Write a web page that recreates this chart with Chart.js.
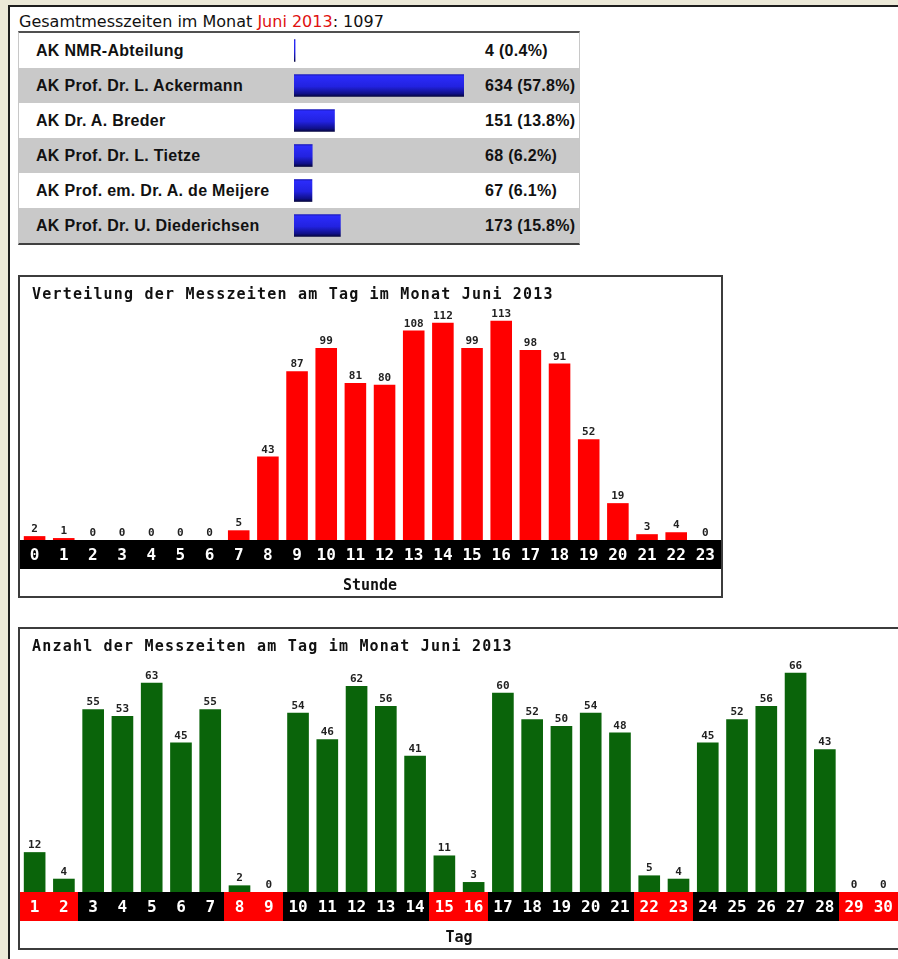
<!DOCTYPE html>
<html>
<head>
<meta charset="utf-8">
<script src="https://cdn.jsdelivr.net/npm/chart.js@4"></script>
<style>
  html, body { margin: 0; padding: 0; overflow: hidden; }
  body { background: #ece9d8; width: 898px; height: 959px; position: relative; }
  #panel { position: absolute; left: 8px; top: 5px; width: 960px; height: 1000px; background: #fff;
    border-top: 2px solid #1e1e1e; border-left: 2px solid #1e1e1e; }
  #summaryTitle { position: absolute; left: 19px; top: 12px; font: 16px 'DejaVu Sans', sans-serif; color: #111; white-space: nowrap; }
  #summaryTitle span { color: #e01010; }
  #summary { position: absolute; left: 18px; top: 31px; width: 560px; background: #fff;
    border-top: 2px solid #505050; border-bottom: 2px solid #404040;
    border-left: 1px solid #c8c8c8; border-right: 1px solid #c8c8c8;
    font: bold 16px 'Liberation Sans', Arial, sans-serif; letter-spacing: 0.3px; color: #111; }
  #summary .row { position: relative; height: 35px; line-height: 35px; white-space: nowrap; }
  #summary .row:nth-child(even) { background: #c9c9c9; }
  #summary .name { position: absolute; left: 17px; }
  #summary .val { position: absolute; left: 466px; }
  #groupBars { position: absolute; left: 294px; top: 33px; }
  .box { position: absolute; left: 18px; border: 2px solid #3c3c3c; background: #fff; }
  .box canvas { display: block; }
</style>
</head>
<body>
<div id="panel"></div>
<div id="summaryTitle"></div>
<div id="summary"></div>
<canvas id="groupBars" width="170" height="210"></canvas>
<div class="box" style="top:275px;width:701px;height:319px"><canvas id="hourChart" width="701" height="319"></canvas></div>
<div class="box" style="top:627px;width:879px;height:319px"><canvas id="dayChart" width="879" height="319"></canvas></div>
<script>
const monthName = 'Juni 2013';
const groupNames = ['AK NMR-Abteilung', 'AK Prof. Dr. L. Ackermann', 'AK Dr. A. Breder',
  'AK Prof. Dr. L. Tietze', 'AK Prof. em. Dr. A. de Meijere', 'AK Prof. Dr. U. Diederichsen'];
const groupValues = [4, 634, 151, 68, 67, 173];

const hourLabels = ['0', '1', '2', '3', '4', '5', '6', '7', '8', '9', '10', '11',
  '12', '13', '14', '15', '16', '17', '18', '19', '20', '21', '22', '23'];
const hourValues = [2, 1, 0, 0, 0, 0, 0, 5, 43, 87, 99, 81, 80, 108, 112, 99, 113, 98, 91, 52, 19, 3, 4, 0];

const dayLabels = ['1', '2', '3', '4', '5', '6', '7', '8', '9', '10', '11', '12', '13', '14', '15',
  '16', '17', '18', '19', '20', '21', '22', '23', '24', '25', '26', '27', '28', '29', '30'];
const dayValues = [12, 4, 55, 53, 63, 45, 55, 2, 0, 54, 46, 62, 56, 41, 11, 3, 60, 52, 50, 54, 48,
  5, 4, 45, 52, 56, 66, 43, 0, 0];
const weekendDays = [1, 2, 8, 9, 15, 16, 22, 23, 29, 30];

const total = groupValues.reduce((a, b) => a + b, 0);
const mono = "'DejaVu Sans Mono', monospace";

// summary table
document.getElementById('summaryTitle').innerHTML =
  `Gesamtmesszeiten im Monat <span>${monthName}</span>: ${total}`;
document.getElementById('summary').innerHTML = groupNames.map((name, i) =>
  `<div class="row"><span class="name">${name}</span>` +
  `<span class="val">${groupValues[i]} (${(groupValues[i] / total * 100).toFixed(1)}%)</span></div>`
).join('');

new Chart(document.getElementById('groupBars'), {
  type: 'bar',
  data: {
    labels: groupNames,
    datasets: [{
      data: groupValues,
      barThickness: 22,
      borderWidth: 0,
      backgroundColor: (c) => {
        const chart = c.chart;
        if (!chart.chartArea || !chart.scales.y) return '#2323e0';
        const h = chart.height;
        const g = chart.ctx.createLinearGradient(0, 0, 0, h);
        groupNames.forEach((n, i) => {
          const yc = chart.scales.y.getPixelForValue(i);
          const t = yc - 11, b = yc + 11;
          g.addColorStop(t / h, '#1c1cc0');
          g.addColorStop((t + 2) / h, '#2b2bfa');
          g.addColorStop((yc + 1) / h, '#2222e0');
          g.addColorStop((b - 3) / h, '#10108a');
          g.addColorStop(b / h, '#050540');
        });
        return g;
      }
    }]
  },
  options: {
    indexAxis: 'y',
    responsive: false,
    animation: false,
    layout: { padding: 0 },
    plugins: { legend: { display: false }, tooltip: { enabled: false } },
    scales: {
      x: { display: false, min: 0, max: Math.max(...groupValues) },
      y: { display: false }
    }
  }
});

// plugins for the two column charts
const boxTitle = {
  id: 'boxTitle',
  afterDraw(chart, args, opts) {
    const ctx = chart.ctx;
    ctx.save();
    ctx.font = `bold 15px ${mono}`;
    ctx.letterSpacing = '1.2px';
    ctx.fillStyle = '#111';
    ctx.textBaseline = 'alphabetic';
    ctx.fillText(opts.text, 12, 22);
    ctx.restore();
  }
};

const band = {
  id: 'band',
  beforeDraw(chart, args, opts) {
    const { ctx, chartArea, scales: { x } } = chart;
    const w = (x.right - x.left) / chart.data.labels.length;
    ctx.save();
    chart.data.labels.forEach((l, i) => {
      const cx = x.getPixelForValue(i);
      ctx.fillStyle = opts.colors[i];
      ctx.fillRect(Math.floor(cx - w / 2), chartArea.bottom, Math.ceil(w) + 1, opts.height);
    });
    ctx.restore();
  }
};

const valueLabels = {
  id: 'valueLabels',
  afterDatasetsDraw(chart) {
    const ctx = chart.ctx;
    const values = chart.data.datasets[0].data;
    ctx.save();
    ctx.font = `bold 11px ${mono}`;
    ctx.fillStyle = '#222';
    ctx.textAlign = 'center';
    ctx.textBaseline = 'alphabetic';
    chart.getDatasetMeta(0).data.forEach((bar, i) => {
      ctx.fillText(values[i], bar.x, bar.y - 4);
    });
    ctx.restore();
  }
};

function columnChart(id, labels, values, barColor, bandColors, title, axisTitle) {
  return new Chart(document.getElementById(id), {
    type: 'bar',
    data: {
      labels: labels,
      datasets: [{ data: values, backgroundColor: barColor, borderWidth: 0,
        barPercentage: 0.74, categoryPercentage: 1 }]
    },
    options: {
      responsive: false,
      animation: false,
      layout: { padding: 0 },
      plugins: {
        legend: { display: false },
        tooltip: { enabled: false },
        boxTitle: { text: title },
        band: { colors: bandColors, height: 29 }
      },
      scales: {
        x: {
          grid: { display: false, drawTicks: false },
          border: { display: false },
          ticks: { color: '#fff', padding: 6, autoSkip: false, maxRotation: 0,
            font: { family: mono, size: 16, weight: 'bold' } },
          title: { display: true, text: axisTitle, color: '#111', padding: { top: 0, bottom: 1 },
            font: { family: mono, size: 15, weight: 'bold' } },
          afterFit: (s) => { s.height = 56; }
        },
        y: { display: false, min: 0, max: Math.max(...values) * 1.2 }
      }
    },
    plugins: [band, valueLabels, boxTitle]
  });
}

columnChart('hourChart', hourLabels, hourValues, '#ff0000',
  hourLabels.map(() => '#000'),
  `Verteilung der Messzeiten am Tag im Monat ${monthName}`, 'Stunde');

columnChart('dayChart', dayLabels, dayValues, '#0a640a',
  dayLabels.map(d => weekendDays.includes(+d) ? '#ff0000' : '#000'),
  `Anzahl der Messzeiten am Tag im Monat ${monthName}`, 'Tag');
</script>
</body>
</html>
